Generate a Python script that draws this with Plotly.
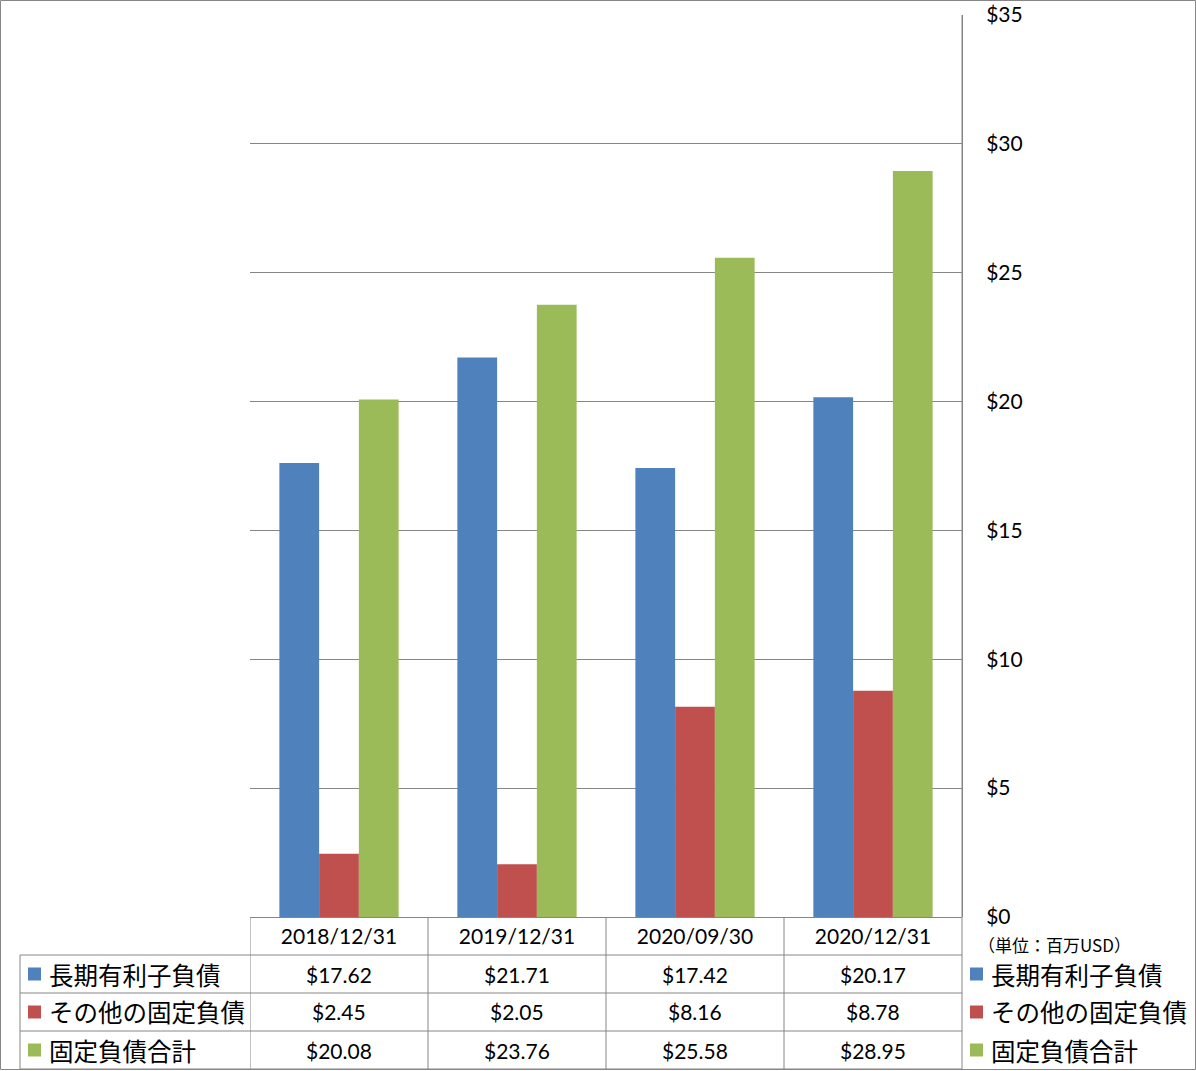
import plotly.graph_objects as go

categories = ["2018/12/31", "2019/12/31", "2020/09/30", "2020/12/31"]
series_names = ["長期有利子負債", "その他の固定負債", "固定負債合計"]
long_term_debt = [17.62, 21.71, 17.42, 20.17]
other_fixed = [2.45, 2.05, 8.16, 8.78]
total_fixed = [20.08, 23.76, 25.58, 28.95]
y_ticks = [0, 5, 10, 15, 20, 25, 30, 35]
unit_label = "（単位：百万USD）"

colors = ["#4F81BD", "#C0504D", "#9BBB59"]
series_values = [long_term_debt, other_fixed, total_fixed]

W, H = 1196, 1071
PL, PR, PT, PB = 250, 962, 15, 917
GRID = "#868686"
NUM_FONT = "Lato, Carlito, Calibri, sans-serif"
JP_FONT = "Noto Sans CJK JP, sans-serif"


def px_x(px):
    return (px - PL) / (PR - PL)


def px_y(py):
    return (PB - py) / (PB - PT)


fig = go.Figure()
for i, (name, vals) in enumerate(zip(series_names, series_values)):
    fig.add_trace(go.Bar(
        x=categories, y=vals, name=name,
        marker=dict(color=colors[i], line=dict(width=0)),
        hoverinfo="x+y+name",
    ))

shapes = []
line = dict(color=GRID, width=1)
# outer border
shapes.append(dict(type="rect", xref="paper", yref="paper",
                   x0=px_x(0.5), x1=px_x(W - 0.5), y0=px_y(0.5), y1=px_y(H - 1.5),
                   line=line, layer="above"))
# right axis line continuing down through table
shapes.append(dict(type="line", xref="paper", yref="paper",
                   x0=1, x1=1, y0=1, y1=px_y(1069), line=line))
# table horizontal lines
row_lines = [955, 993, 1031, 1069]
for yy in row_lines:
    shapes.append(dict(type="line", xref="paper", yref="paper",
                       x0=px_x(20), x1=1, y0=px_y(yy), y1=px_y(yy), line=line))
# label column left border
shapes.append(dict(type="line", xref="paper", yref="paper",
                   x0=px_x(20), x1=px_x(20), y0=px_y(955), y1=px_y(1069), line=line))
# column separators via category scale
for k in range(len(categories)):
    xb = k - 0.5
    shapes.append(dict(type="line", xref="x", yref="paper",
                       x0=xb, x1=xb, y0=0, y1=px_y(1069), line=line))

annotations = []
row_centers = [974, 1012, 1050]
for r, (name, vals) in enumerate(zip(series_names, series_values)):
    yc = px_y(row_centers[r])
    # marker square in table row label and in right legend
    for sx in (28, 970):
        shapes.append(dict(type="rect", xref="paper", yref="paper",
                           x0=px_x(sx), x1=px_x(sx + 13), y0=px_y(row_centers[r] - 6.5),
                           y1=px_y(row_centers[r] + 6.5),
                           fillcolor=colors[r], line=dict(width=0)))
    for tx in (47, 989):
        annotations.append(dict(xref="paper", yref="paper", x=px_x(tx), y=yc,
                                xanchor="left", yanchor="middle", showarrow=False,
                                text=name,
                                font=dict(family=JP_FONT, size=24.5, color="#000")))
    for c, v in zip(categories, vals):
        annotations.append(dict(xref="x", yref="paper", x=c, y=yc,
                                xanchor="center", yanchor="middle", showarrow=False,
                                text=f"${v:.2f}",
                                font=dict(family=NUM_FONT, size=21, color="#000")))

annotations.append(dict(xref="paper", yref="paper", x=px_x(976), y=px_y(944),
                        xanchor="left", yanchor="middle", showarrow=False,
                        text=unit_label,
                        font=dict(family=JP_FONT, size=17, color="#000")))

fig.update_layout(
    width=W, height=H,
    margin=dict(l=PL, r=W - PR, t=PT, b=H - PB, autoexpand=False),
    paper_bgcolor="white", plot_bgcolor="white",
    barmode="group", bargap=0.33, bargroupgap=0,
    showlegend=False,
    xaxis=dict(type="category", range=[-0.5, len(categories) - 0.5],
               showgrid=False, zeroline=False, showline=False, ticks="",
               ticklabelstandoff=5, automargin=False,
               tickfont=dict(family=NUM_FONT, size=21, color="#000"),
               fixedrange=True),
    yaxis=dict(side="right", range=[0, 35], tickvals=y_ticks,
               ticktext=[f"${t}" for t in y_ticks],
               showgrid=True, gridcolor=GRID, gridwidth=1,
               zeroline=True, zerolinecolor=GRID, zerolinewidth=1,
               showline=True, linecolor=GRID, linewidth=1, ticks="",
               ticklabelstandoff=19, automargin=False,
               tickfont=dict(family=NUM_FONT, size=21, color="#000"),
               fixedrange=True),
    shapes=shapes, annotations=annotations,
)

fig.write_html("out.html")
